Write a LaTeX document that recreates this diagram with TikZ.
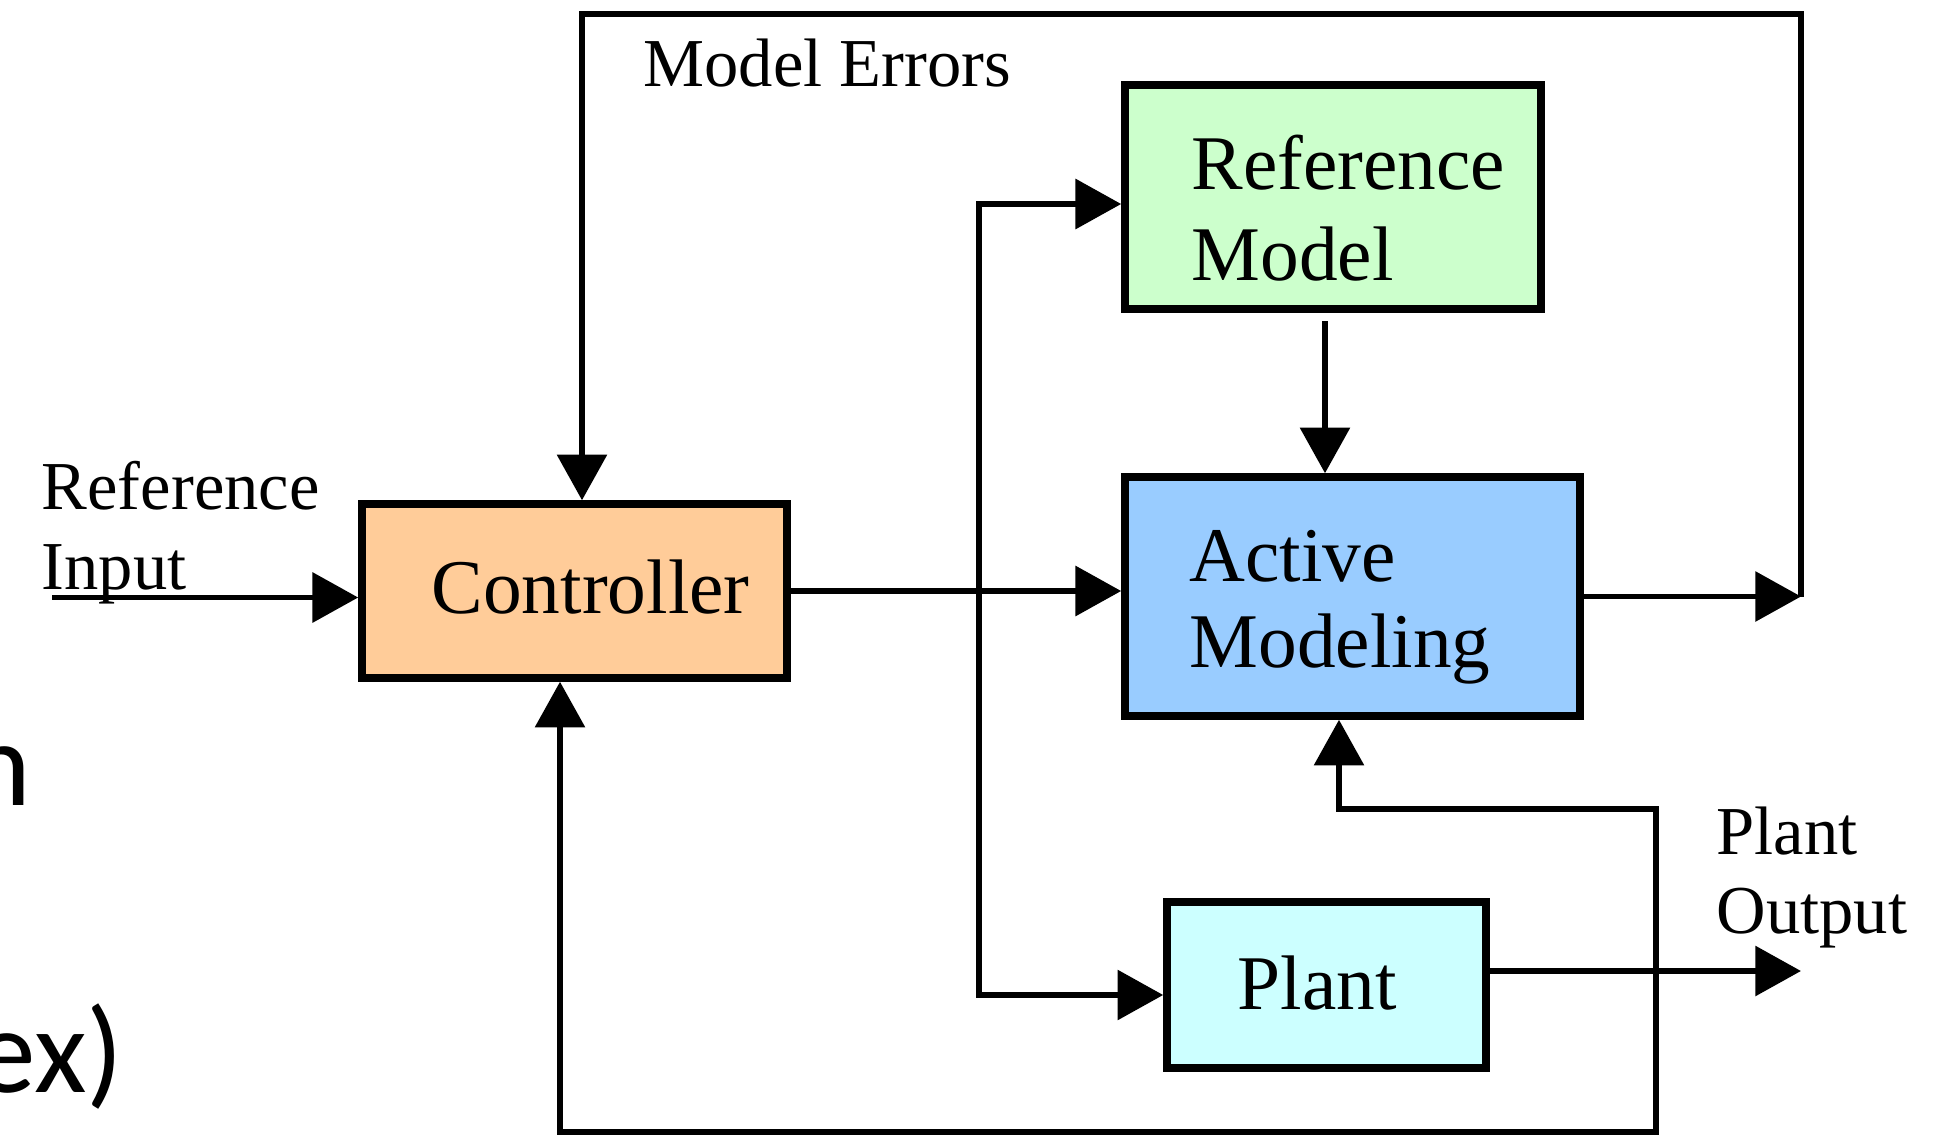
\documentclass[tikz,border=0pt]{standalone}
\usepackage{fontspec}
\setmainfont{Liberation Serif}
\newfontfamily\slidefont{Carlito}
\usetikzlibrary{arrows.meta}
\definecolor{ctrlfill}{HTML}{FFCC99}
\definecolor{rmfill}{HTML}{CCFFCC}
\definecolor{amfill}{HTML}{99CCFF}
\definecolor{plfill}{HTML}{CCFFFF}
\tikzset{
  blockbox/.style={draw=black, line width=2.1pt, inner sep=0pt},
  boxtext/.style={anchor=base west, inner sep=0pt, font=\fontsize{22}{26}\selectfont},
  lbltext/.style={anchor=base west, inner sep=0pt, font=\fontsize{19.5}{23}\selectfont},
  conn/.style={line width=1.6pt, line join=miter},
  tip/.style={-{Triangle[length=13pt,width=14pt]}},
  tips/.style={{Triangle[length=13pt,width=14pt]}-{Triangle[length=13pt,width=14pt]}}
}
\begin{document}
\begin{tikzpicture}[x=0.01cm, y=-0.01cm]
\useasboundingbox (0,0) rectangle (1938,1136);

% stray slide text cut at the left edge
\node[anchor=base east, inner sep=0pt, font=\slidefont\fontsize{34.5}{40}\selectfont] (strayn) at (32,805) {n};
\node[anchor=base east, inner sep=0pt, font=\slidefont\fontsize{34.5}{40}\selectfont] (strayex) at (124,1092) {ex)};

% blocks
\node[blockbox, fill=ctrlfill, minimum width=4.25cm, minimum height=1.74cm] (ctrl) at (574.5,591) {};
\node[blockbox, fill=rmfill, minimum width=4.16cm, minimum height=2.24cm] (rm) at (1333,197) {};
\node[blockbox, fill=amfill, minimum width=4.55cm, minimum height=2.39cm] (am) at (1352.5,596.5) {};
\node[blockbox, fill=plfill, minimum width=3.19cm, minimum height=1.66cm] (pl) at (1326.5,985) {};

% block texts
\node[boxtext] (ctrltxt) at (431,613) {Controller};
\node[boxtext] (rmtxt1) at (1191,189) {Reference};
\node[boxtext] (rmtxt2) at (1191,280) {Model};
\node[boxtext] (amtxt1) at (1189,581) {Active};
\node[boxtext] (amtxt2) at (1189,667) {Modeling};
\node[boxtext] (pltxt) at (1237,1009) {Plant};

% labels
\node[lbltext] (merr) at (643,86) {Model Errors};
\node[lbltext] (refin1) at (41,509) {Reference};
\node[lbltext] (refin2) at (41,589) {Input};
\node[lbltext] (pout1) at (1716,854) {Plant};
\node[lbltext] (pout2) at (1716,933) {Output};

% coordinates
\coordinate (inS) at (52,597.5);
\coordinate (er) at (1801,596.5);
\coordinate (tr) at (1801,14);
\coordinate (tl) at (582,14);
\coordinate (bt) at (979,204);
\coordinate (bb) at (979,995);
\coordinate (po) at (1801,971);
\coordinate (fbL) at (560,1132);
\coordinate (fbR) at (1656,1132);
\coordinate (fbT) at (1656,809);
\coordinate (fbA) at (1339,809);
\coordinate (rmO) at (1325,321);

% connectors
\draw[conn, tip] (inS) -- (inS -| ctrl.west);
\draw[conn, tip] (ctrl.east) -- (ctrl.east -| am.west);
\draw[conn, tips] (bt -| rm.west) -- (bt) -- (bb) -- (bb -| pl.west);
\draw[conn, tip] (rmO) -- (rmO |- am.north);
\draw[conn, tip] (am.east) -- (er);
\draw[conn, tip] (er) -- (tr) -- (tl) -- (tl |- ctrl.north);
\draw[conn, tip] (po -| pl.east) -- (po);
\draw[conn, tips] (fbL |- ctrl.south) -- (fbL) -- (fbR) -- (fbT) -- (fbA) -- (fbA |- am.south);
\end{tikzpicture}
\end{document}
